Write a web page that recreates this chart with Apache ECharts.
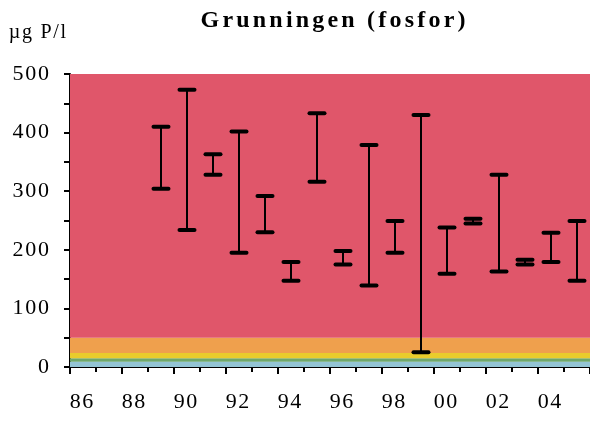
<!DOCTYPE html>
<html>
<head>
<meta charset="utf-8">
<script src="https://cdn.jsdelivr.net/npm/echarts@6/dist/echarts.min.js"></script>
<style>
  html, body { margin: 0; padding: 0; background: #ffffff; }
  #chart { width: 590px; height: 421px; }
</style>
</head>
<body>
<div id="chart"></div>
<script>
// Yearly range (min–max) of total phosphorus, plotted at mid-year
const years = [1989, 1990, 1991, 1992, 1993, 1994, 1995, 1996, 1997, 1998, 1999, 2000, 2001, 2002, 2003, 2004, 2005];
const lowValues = [304, 234, 328, 195, 230, 147, 316, 175, 139, 195, 25, 159, 245, 163, 175, 179, 147];
const highValues = [410, 473, 363, 402, 292, 179, 433, 198, 379, 249, 430, 238, 253, 328, 183, 229, 249];

// Condition classes (µg P/l) shown as coloured background bands
const classLimits = [0, 9, 15, 24, 50, 500];
const classColors = ['#93c4d4', '#6da76b', '#e9cc2c', '#efa04d', '#e0566a'];

const yTicks = [0, 100, 200, 300, 400, 500];
const xMin = 1986, xMax = 2006;

const titleText = 'Grunningen (fosfor)';
const unitText = 'µg P/l';

const serif = '"Liberation Serif", "DejaVu Serif", serif';

// Wrap every character in a rich-text token so letters get a little extra spacing
const spaced = (str, key) => str.split('').map(c => `{${key}|${c}}`).join('');

const bands = classColors.map((c, i) => [
  { yAxis: classLimits[i], itemStyle: { color: c } },
  { yAxis: classLimits[i + 1] }
]);

const rangeData = years.map((y, i) => [y + 0.5, lowValues[i], highValues[i]]);

const chart = echarts.init(document.getElementById('chart'), null, { renderer: 'canvas' });

chart.setOption({
  animation: false,
  backgroundColor: '#ffffff',
  graphic: [{
    type: 'text',
    x: 333,
    y: 21,
    style: {
      text: spaced(titleText, 't'),
      align: 'center',
      verticalAlign: 'middle',
      rich: { t: { fontFamily: serif, fontWeight: 'bold', fontSize: 24, color: '#000', padding: [0, 1.6] } }
    }
  }, {
    type: 'text',
    x: 8,
    y: 33,
    style: {
      text: spaced(unitText, 'u'),
      align: 'left',
      verticalAlign: 'middle',
      rich: { u: { fontFamily: serif, fontSize: 20, color: '#000', padding: [0, 0.85] } }
    }
  }],
  grid: { left: 70, right: 0, top: 74, bottom: 54, containLabel: false },
  xAxis: [{
    type: 'value',
    min: xMin,
    max: xMax,
    interval: 2,
    axisLine: { show: true, onZero: false, lineStyle: { color: '#000', width: 2 } },
    axisTick: { show: true, length: 7, lineStyle: { color: '#000', width: 2 } },
    minorTick: { show: true, splitNumber: 2, length: 5, lineStyle: { color: '#000', width: 2 } },
    splitLine: { show: false },
    axisLabel: {
      margin: 24,
      align: 'left',
      padding: [0, 0, 0, -1],
      showMaxLabel: false,
      formatter: v => spaced(String(v % 100).padStart(2, '0'), 'x'),
      rich: { x: { fontFamily: serif, fontSize: 22, color: '#000', padding: [0, 0.75] } }
    }
  }, {
    type: 'value',
    position: 'top',
    min: xMin,
    max: xMax,
    axisLine: { show: true, lineStyle: { color: '#000', width: 2 } },
    axisTick: { show: false },
    axisLabel: { show: false },
    splitLine: { show: false }
  }],
  yAxis: {
    type: 'value',
    min: 0,
    max: 500,
    interval: 100,
    axisLine: { show: true, onZero: false, lineStyle: { color: '#000', width: 2 } },
    axisTick: { show: true, length: 6, lineStyle: { color: '#000', width: 2 } },
    minorTick: { show: true, splitNumber: 2, length: 6, lineStyle: { color: '#000', width: 2 } },
    splitLine: { show: false },
    axisLabel: {
      margin: 20,
      formatter: v => yTicks.includes(v) ? spaced(String(v), 'y') : '',
      rich: { y: { fontFamily: serif, fontSize: 22, color: '#000', padding: [0, 0.9] } }
    }
  },
  series: [{
    type: 'custom',
    name: 'bands',
    silent: true,
    data: [],
    renderItem: () => null,
    markArea: { silent: true, data: bands }
  }, {
    type: 'custom',
    name: 'range',
    data: rangeData,
    z: 10,
    renderItem: (params, api) => {
      const x = api.value(0);
      const lo = api.coord([x, api.value(1)]);
      const hi = api.coord([x, api.value(2)]);
      const half = 7.5;
      const capStyle = { stroke: '#000', lineWidth: 4, lineCap: 'round' };
      return {
        type: 'group',
        children: [
          { type: 'line', shape: { x1: lo[0], y1: lo[1], x2: hi[0], y2: hi[1] }, style: { stroke: '#000', lineWidth: 2 } },
          { type: 'line', shape: { x1: hi[0] - half, y1: hi[1], x2: hi[0] + half, y2: hi[1] }, style: capStyle },
          { type: 'line', shape: { x1: lo[0] - half, y1: lo[1], x2: lo[0] + half, y2: lo[1] }, style: capStyle }
        ]
      };
    }
  }]
});
</script>
</body>
</html>
